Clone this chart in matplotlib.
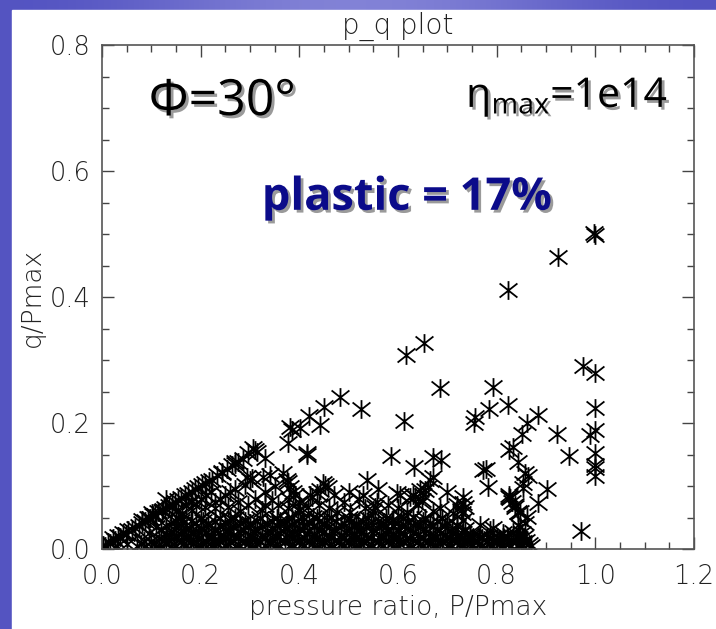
import numpy as np
import matplotlib
matplotlib.use("Agg")
import matplotlib.pyplot as plt
import matplotlib.patheffects as pe
from matplotlib.path import Path
from matplotlib.patches import Rectangle
from matplotlib.ticker import MultipleLocator

plt.rcParams['mathtext.default'] = 'regular'

# upper envelope, q ~ p/2
edge_p = [0.002, 0.007, 0.012, 0.017, 0.022, 0.027, 0.032, 0.037, 0.043, 0.048, 0.053,
          0.060, 0.067, 0.074, 0.081, 0.087, 0.093, 0.098, 0.103, 0.108, 0.114, 0.121,
          0.128, 0.135, 0.142, 0.148, 0.154, 0.161, 0.168, 0.175, 0.183, 0.189, 0.195,
          0.202, 0.209, 0.216, 0.223, 0.233, 0.243, 0.253, 0.264, 0.270, 0.276, 0.285,
          0.296, 0.306, 0.310, 0.314]
edge_q = [0.006, 0.005, 0.011, 0.009, 0.017, 0.014, 0.021, 0.019, 0.025, 0.024, 0.030,
          0.030, 0.033, 0.037, 0.041, 0.044, 0.049, 0.049, 0.054, 0.054, 0.059, 0.061,
          0.065, 0.068, 0.070, 0.074, 0.078, 0.081, 0.086, 0.088, 0.090, 0.095, 0.098,
          0.101, 0.105, 0.108, 0.110, 0.117, 0.122, 0.127, 0.133, 0.135, 0.138, 0.143,
          0.152, 0.160, 0.157, 0.154]

# scattered points above the dense band
scat_p = [0.998, 1.000, 0.925, 0.822, 0.653, 0.617, 0.686, 0.976, 1.000, 0.793,
          1.000, 0.785, 0.822, 0.757, 0.755, 0.884, 0.862, 0.852, 0.923, 0.990,
          1.000, 0.824, 0.834, 0.844, 0.947, 1.000, 1.000, 1.000, 1.000, 0.779,
          0.783, 0.864, 0.854, 0.903, 0.826, 0.828, 0.884, 0.838, 0.844, 0.970,
          0.767, 0.793, 0.793, 0.813, 0.813, 0.844, 0.852, 0.858, 0.854, 0.732,
          0.736, 0.730, 0.732, 0.720, 0.751, 0.483, 0.450, 0.420, 0.442, 0.525,
          0.613, 0.402, 0.381, 0.385, 0.377, 0.331, 0.294, 0.416, 0.586, 0.671,
          0.688, 0.633, 0.773, 0.270, 0.243, 0.300, 0.327, 0.341, 0.290, 0.367,
          0.375, 0.381, 0.387, 0.452, 0.442, 0.458, 0.422, 0.436, 0.448, 0.538,
          0.598, 0.604, 0.631, 0.651, 0.655, 0.665, 0.671, 0.700, 0.661, 0.645,
          0.558, 0.625, 0.635, 0.649, 0.732, 0.720, 0.728, 0.712, 0.686, 0.554,
          0.533, 0.503, 0.477, 0.456, 0.428, 0.408, 0.402, 0.619, 0.631, 0.606,
          0.588, 0.824, 0.832, 0.838, 0.848, 0.862, 0.848, 0.834, 0.822, 0.807,
          0.753, 0.740, 0.787, 0.842, 0.858, 0.854, 0.304, 0.377, 0.391, 0.416]
scat_q = [0.502, 0.498, 0.463, 0.411, 0.327, 0.308, 0.256, 0.290, 0.279, 0.257,
          0.224, 0.222, 0.229, 0.210, 0.200, 0.213, 0.200, 0.183, 0.183, 0.181,
          0.189, 0.157, 0.162, 0.138, 0.148, 0.152, 0.133, 0.129, 0.116, 0.127,
          0.098, 0.116, 0.097, 0.095, 0.086, 0.081, 0.073, 0.070, 0.059, 0.029,
          0.038, 0.033, 0.014, 0.025, 0.019, 0.038, 0.025, 0.041, 0.011, 0.083,
          0.067, 0.057, 0.046, 0.038, 0.014, 0.241, 0.225, 0.211, 0.197, 0.222,
          0.203, 0.192, 0.194, 0.189, 0.168, 0.144, 0.114, 0.149, 0.148, 0.146,
          0.141, 0.130, 0.125, 0.138, 0.121, 0.110, 0.114, 0.117, 0.102, 0.121,
          0.110, 0.098, 0.090, 0.102, 0.094, 0.098, 0.086, 0.089, 0.105, 0.110,
          0.089, 0.086, 0.086, 0.086, 0.094, 0.110, 0.114, 0.090, 0.098, 0.094,
          0.075, 0.083, 0.083, 0.078, 0.073, 0.070, 0.062, 0.057, 0.065, 0.067,
          0.065, 0.059, 0.059, 0.046, 0.051, 0.051, 0.062, 0.059, 0.051, 0.051,
          0.046, 0.083, 0.075, 0.067, 0.059, 0.051, 0.035, 0.027, 0.019, 0.014,
          0.019, 0.014, 0.030, 0.014, 0.121, 0.105, 0.113, 0.106, 0.086, 0.152]

# second, flatter streak and points between envelope and band
mid_p = [0.081, 0.101, 0.124, 0.142, 0.162, 0.183, 0.209, 0.229, 0.256, 0.276, 0.296,
         0.325, 0.345, 0.357, 0.377, 0.398, 0.418, 0.426, 0.20, 0.22, 0.25, 0.18, 0.27,
         0.33, 0.35, 0.47, 0.50, 0.52, 0.56, 0.58, 0.11, 0.16, 0.26, 0.19, 0.24, 0.36,
         0.03, 0.05, 0.085, 0.095, 0.13, 0.15, 0.17, 0.21, 0.23, 0.26, 0.28, 0.31, 0.33,
         0.38, 0.40, 0.44, 0.46, 0.49, 0.53, 0.55, 0.60, 0.64, 0.67]
mid_q = [0.046, 0.057, 0.062, 0.067, 0.057, 0.062, 0.067, 0.065, 0.067, 0.075, 0.070,
         0.062, 0.078, 0.070, 0.065, 0.062, 0.067, 0.083, 0.080, 0.090, 0.085, 0.075, 0.095,
         0.090, 0.100, 0.085, 0.090, 0.080, 0.095, 0.070, 0.035, 0.045, 0.050, 0.072, 0.080,
         0.045, 0.004, 0.008, 0.012, 0.025, 0.080, 0.060, 0.070, 0.085, 0.075, 0.090, 0.060,
         0.080, 0.070, 0.080, 0.075, 0.070, 0.065, 0.075, 0.085, 0.060, 0.065, 0.070, 0.060]

# dense band near q = 0, one list of p per row
band_q = [0.004, 0.008, 0.013, 0.017, 0.019, 0.022, 0.026, 0.031, 0.036, 0.041, 0.045,
          0.050]
band_p = [
    [0.07, 0.09, 0.11, 0.12, 0.14, 0.15, 0.17, 0.19, 0.20, 0.22, 0.23, 0.25, 0.27, 0.28,
     0.30, 0.31, 0.33, 0.35, 0.36, 0.38, 0.39, 0.41, 0.43, 0.44, 0.46, 0.47, 0.49, 0.51,
     0.52, 0.54, 0.55, 0.57, 0.59, 0.60, 0.62, 0.63, 0.65, 0.67, 0.68, 0.70, 0.71, 0.73,
     0.75, 0.77, 0.79, 0.81, 0.83, 0.85, 0.87],
    [0.08, 0.105, 0.13, 0.145, 0.165, 0.185, 0.205, 0.235, 0.255, 0.275, 0.295, 0.315,
     0.34, 0.355, 0.385, 0.405, 0.425, 0.445, 0.465, 0.485, 0.505, 0.525, 0.545, 0.565,
     0.585, 0.605, 0.625, 0.645, 0.665, 0.685, 0.705, 0.725, 0.745, 0.765, 0.785, 0.805,
     0.825, 0.845, 0.865],
    [0.10, 0.125, 0.135, 0.16, 0.18, 0.21, 0.225, 0.24, 0.26, 0.29, 0.32, 0.34, 0.37, 0.40,
     0.42, 0.45, 0.48, 0.50, 0.53, 0.56, 0.58, 0.61, 0.64, 0.66, 0.69, 0.72, 0.74, 0.76,
     0.78, 0.80, 0.83, 0.86],
    [0.115, 0.145, 0.17, 0.195, 0.215, 0.25, 0.275, 0.305, 0.33, 0.355, 0.385, 0.41,
     0.435, 0.465, 0.49, 0.515, 0.545, 0.57, 0.595, 0.625, 0.65, 0.675, 0.705, 0.73,
     0.75, 0.77, 0.79, 0.815, 0.845],
    [0.70, 0.72, 0.745, 0.765, 0.78, 0.80, 0.82, 0.84, 0.855],
    [0.13, 0.15, 0.175, 0.195, 0.22, 0.245, 0.265, 0.30, 0.325, 0.35, 0.375, 0.395, 0.43,
     0.46, 0.485, 0.51, 0.535, 0.565, 0.59, 0.615, 0.64, 0.67, 0.695, 0.72, 0.745],
    [0.14, 0.165, 0.185, 0.21, 0.235, 0.255, 0.28, 0.31, 0.335, 0.36, 0.385, 0.415, 0.445,
     0.47, 0.495, 0.525, 0.55, 0.575, 0.605, 0.63, 0.655, 0.685, 0.71, 0.73],
    [0.12, 0.145, 0.17, 0.20, 0.23, 0.255, 0.285, 0.31, 0.345, 0.37, 0.40, 0.44, 0.47,
     0.50, 0.52, 0.55, 0.58, 0.60, 0.625, 0.655, 0.68, 0.71, 0.735],
    [0.13, 0.155, 0.18, 0.21, 0.24, 0.265, 0.295, 0.325, 0.355, 0.38, 0.41, 0.43, 0.455,
     0.485, 0.51, 0.535, 0.565, 0.59, 0.615, 0.645, 0.67, 0.695, 0.72],
    [0.14, 0.165, 0.19, 0.215, 0.25, 0.28, 0.30, 0.335, 0.36, 0.39, 0.42, 0.45, 0.49,
     0.515, 0.545, 0.57, 0.60, 0.635, 0.665, 0.70],
    [0.15, 0.18, 0.205, 0.23, 0.26, 0.29, 0.315, 0.345, 0.375, 0.405, 0.44, 0.475, 0.505,
     0.53, 0.56, 0.59, 0.62, 0.65, 0.68],
    [0.155, 0.20, 0.24, 0.27, 0.32, 0.355, 0.385, 0.435, 0.465, 0.50, 0.54, 0.575, 0.61,
     0.655, 0.69],
]

# gather everything
p_all = list(edge_p) + list(scat_p) + list(mid_p)
q_all = list(edge_q) + list(scat_q) + list(mid_q)
for qq, row in zip(band_q, band_p):
    p_all += row
    q_all += [qq] * len(row)

# IDL-style asterisk: vertical stroke plus an X
star = Path([(0, -1), (0, 1), (-0.95, -0.75), (0.95, 0.75), (-0.95, 0.75), (0.95, -0.75)],
            [Path.MOVETO, Path.LINETO] * 3)

fig = plt.figure(figsize=(7.16, 6.29), dpi=100)
fig.patch.set_facecolor('#5a5cc2')
# slide background: blue band, white page
bg = fig.add_axes([0, 0, 1, 1], zorder=-2)
grad = np.linspace(0, 1, 256)
img = np.zeros((2, 256, 3))
img[:, :, 0] = 0.33 + 0.18 * np.sin(np.pi * grad) ** 2
img[:, :, 1] = 0.33 + 0.18 * np.sin(np.pi * grad) ** 2
img[:, :, 2] = 0.76 + 0.08 * np.sin(np.pi * grad) ** 2
bg.imshow(img, aspect='auto', extent=[0, 1, 0, 1])
bg.add_patch(Rectangle((12 / 716, 0), 1, (629 - 10) / 629, color='white'))
bg.set_xlim(0, 1)
bg.set_ylim(0, 1)
bg.axis('off')

ax = fig.add_axes([102 / 716, 80 / 629, 592 / 716, 504 / 629])
ax.set_facecolor('white')
ax.plot(p_all, q_all, linestyle='none', marker=star, markersize=13.5,
        markeredgewidth=1.3, color='black', markerfacecolor='none')

ax.set_xlim(0, 1.2)
ax.set_ylim(0, 0.8)
ax.xaxis.set_major_locator(MultipleLocator(0.2))
ax.xaxis.set_minor_locator(MultipleLocator(0.05))
ax.yaxis.set_major_locator(MultipleLocator(0.2))
ax.yaxis.set_minor_locator(MultipleLocator(0.05))
ax.xaxis.set_major_formatter(lambda v, pos: f"{v:.1f}")
ax.yaxis.set_major_formatter(lambda v, pos: f"{v:.1f}")

txt = dict(family='DejaVu Sans', fontweight='light', color='#222222')
ax.tick_params(which='both', direction='in', top=True, right=True, color='#444444')
ax.tick_params(which='major', length=8.5, width=1.0)
ax.tick_params(which='minor', length=5, width=1.0)
ax.tick_params(axis='x', pad=11)
ax.tick_params(axis='y', pad=8)
for lab in ax.get_xticklabels() + ax.get_yticklabels():
    lab.set_fontsize(18.5)
    lab.set_fontweight('light')
    lab.set_color('#222222')
for s in ax.spines.values():
    s.set_color('#555555')
    s.set_linewidth(1.2)

ax.set_title('p_q plot', fontsize=20, pad=8, **txt)
ax.set_xlabel('pressure ratio, P/Pmax', fontsize=19, labelpad=4, **txt)
ax.set_ylabel('q/Pmax', fontsize=19, labelpad=4, **txt)

shadow = [pe.withSimplePatchShadow(offset=(2, -2), shadow_rgbFace='#9a9a9a', alpha=1.0)]
ax.text(0.079, 0.861, 'Φ=30°', transform=ax.transAxes, fontsize=36,
        family='Open Sans', color='black', va='baseline', ha='left', path_effects=shadow)
ax.text(0.615, 0.877, r'$\eta_{max}$=1e14', transform=ax.transAxes, fontsize=29.5,
        family='Open Sans', color='black', va='baseline', ha='left', path_effects=shadow)
ax.text(0.270, 0.673, 'plastic = 17%', transform=ax.transAxes, fontsize=32.5,
        family='Open Sans', fontweight='bold', color='#0b0b8a', va='baseline', ha='left',
        path_effects=shadow)

fig.savefig('out.png', dpi=100)
